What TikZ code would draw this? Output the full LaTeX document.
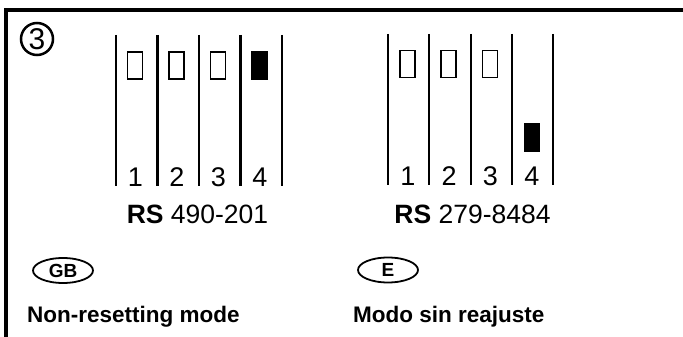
\documentclass[tikz,border=0pt]{standalone}
\usepackage{fontspec}
\setmainfont{Liberation Sans}
\usetikzlibrary{positioning, shapes.geometric}

\tikzset{
    switch/.style={draw, line width=1.7pt, minimum width=15pt, minimum height=27pt, inner sep=0pt},
    switchon/.style={switch, fill=black},
    digit/.style={anchor=base, inner sep=0pt, font=\fontsize{27}{27}\selectfont},
    partno/.style={anchor=base, inner sep=0pt, font=\fontsize{26.5}{26.5}\selectfont},
    country/.style={draw, ellipse, line width=1.8pt, minimum width=60pt, minimum height=25pt, inner sep=0pt, font=\fontsize{19}{19}\selectfont\bfseries},
    caption/.style={anchor=base west, inner sep=0pt, font=\fontsize{22.5}{22.5}\selectfont\bfseries}
}

\begin{document}
\begin{tikzpicture}[x=1pt,y=-1pt]
        \useasboundingbox (0,0) rectangle (683,337);
        % frame
        \draw[line width=3.5pt] (6,337) -- (6,10) -- (683,10);
        \node[draw, circle, line width=2.5pt, minimum size=32pt, inner sep=0pt,
              font=\fontsize{30}{30}\selectfont] (num) at (37,39) {3};

        % RS 490-201, all off but 4
        \foreach \i in {0,...,4}
            \draw[line width=2.2pt] (116+41.5*\i,35) coordinate (a\i) -- (116+41.5*\i,186);
        \foreach \i in {1,2,3} {
            \node[switch] (as\i) at (93.5+41.5*\i,65.5) {};
            \node[digit] (ad\i) at (94+41.5*\i,186) {\i};
        }
        \node[switchon] (as4) at (259.5,65.5) {};
        \node[digit] (ad4) at (260,186) {4};
        \node[partno] (rsa) at (197.5,223) {\textbf{RS} 490-201};

        % RS 279-8484, switch 4 down
        \foreach \i in {0,...,4}
            \draw[line width=2.2pt] (388+41.3*\i,34) coordinate (b\i) -- (388+41.3*\i,185);
        \foreach \i in {1,2,3} {
            \node[switch] (bs\i) at (366+41.3*\i,64) {};
            \node[digit] (bd\i) at (366.5+41.3*\i,185) {\i};
        }
        \node[switchon] (bs4) at (532,137.5) {};
        \node[digit] (bd4) at (532,185) {4};
        \node[partno] (rsb) at (472.5,223) {\textbf{RS} 279-8484};

        % languages
        \node[country] (gb) at (63,270.5) {GB};
        \node[country] (es) at (388,270) {E};
        \node[caption] (gbtext) at (27,322) {Non-resetting mode};
        \node[caption] (estext) at (353,322) {Modo sin reajuste};
    \end{tikzpicture}
\end{document}
